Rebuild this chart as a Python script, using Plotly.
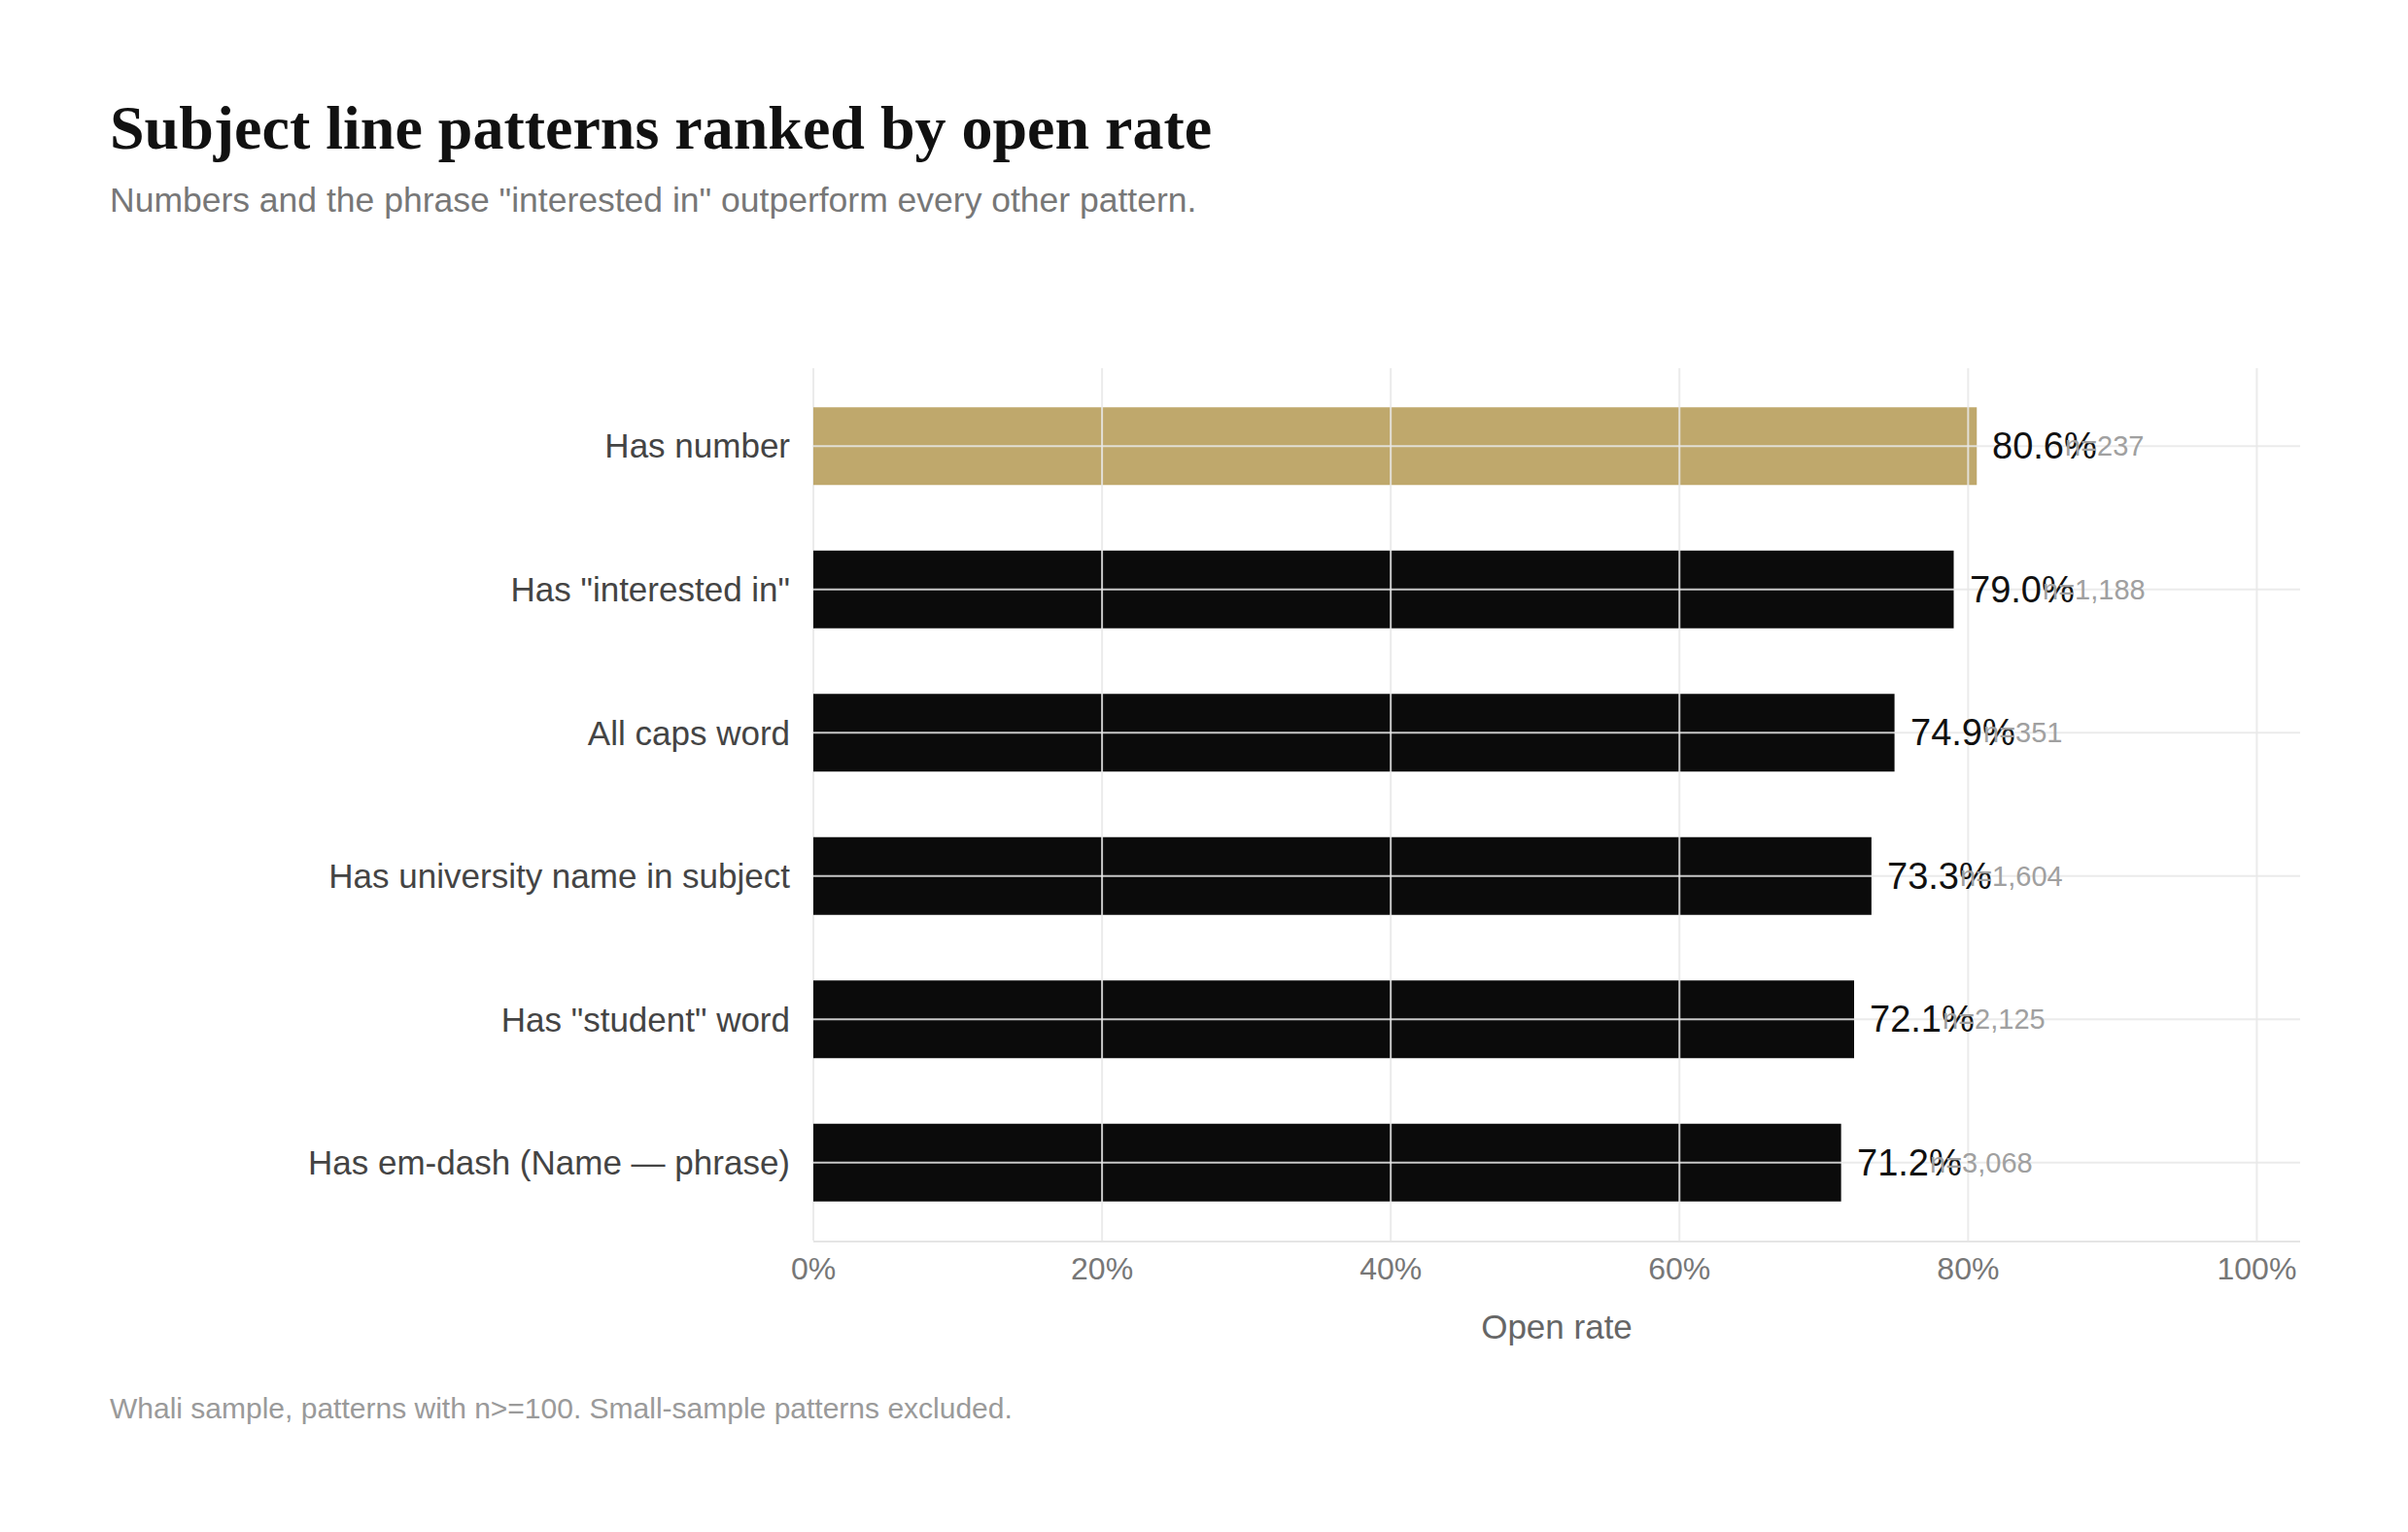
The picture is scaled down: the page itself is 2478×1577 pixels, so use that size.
import plotly.graph_objects as go

# data
patterns = [
    "Has number",
    'Has "interested in"',
    "All caps word",
    "Has university name in subject",
    'Has "student" word',
    "Has em-dash (Name \u2014 phrase)",
]
open_rate = [0.806, 0.790, 0.749, 0.733, 0.721, 0.712]
sample_n = [237, 1188, 351, 1604, 2125, 3068]
x_ticks = [0, 0.2, 0.4, 0.6, 0.8, 1.0]

GOLD = "#BFA86C"
BLACK = "#0B0B0B"
GRID = "rgba(232,232,232,0.86)"
SANS = "Helvetica Neue, Helvetica, Arial, Liberation Sans, sans-serif"
SERIF = "Georgia, Liberation Serif, serif"

colors = [GOLD if i == 0 else BLACK for i in range(len(patterns))]

fig = go.Figure()
fig.add_trace(go.Bar(
    x=open_rate,
    y=patterns,
    orientation="h",
    width=0.542,
    marker=dict(color=colors, line=dict(width=0)),
    hoverinfo="skip",
))

# grid is drawn on top of the bars in the original
for t in x_ticks[1:]:
    fig.add_shape(type="line", xref="x", yref="paper", x0=t, x1=t, y0=0, y1=1,
                  line=dict(color=GRID, width=2), layer="above")
for p in patterns:
    fig.add_shape(type="line", xref="paper", yref="y", x0=0, x1=1, y0=p, y1=p,
                  line=dict(color=GRID, width=2), layer="above")

# value labels just past the bar end
for p, v in zip(patterns, open_rate):
    fig.add_annotation(
        x=v, y=p, xref="x", yref="y", xshift=14,
        text=f"{v * 100:.1f}%", showarrow=False, xanchor="left", yanchor="middle",
        font=dict(family=SANS, size=38, color="#111111"),
    )

# n= labels, sit a bit right of the bar end (they overlap the % label like the original)
for p, v, n in zip(patterns, open_rate, sample_n):
    fig.add_annotation(
        x=v + 0.06, y=p, xref="x", yref="y",
        text=f"n={n:,}", showarrow=False, xanchor="left", yanchor="middle",
        font=dict(family=SANS, size=29, color="#a0a0a0"),
    )

# title / subtitle / footnote
fig.add_annotation(
    x=-0.4745, y=1.276, xref="paper", yref="paper", xanchor="left", yanchor="middle",
    text="<b>Subject line patterns ranked by open rate</b>", showarrow=False,
    font=dict(family=SERIF, size=64, color="#111111"),
)
fig.add_annotation(
    x=-0.4745, y=1.193, xref="paper", yref="paper", xanchor="left", yanchor="middle",
    text='Numbers and the phrase "interested in" outperform every other pattern.',
    showarrow=False, font=dict(family=SANS, size=35.5, color="#777777"),
)
fig.add_annotation(
    x=-0.4745, y=-0.1925, xref="paper", yref="paper", xanchor="left", yanchor="middle",
    text="Whali sample, patterns with n>=100. Small-sample patterns excluded.",
    showarrow=False, font=dict(family=SANS, size=30, color="#9a9a9a"),
)

fig.update_layout(
    width=2462, height=1561,
    margin=dict(l=829, r=103, t=371, b=292),
    paper_bgcolor="white", plot_bgcolor="white",
    showlegend=False,
    font=dict(family=SANS),
    xaxis=dict(
        range=[0, 1.03],
        tickvals=x_ticks,
        tickformat=".0%",
        tickfont=dict(size=32, color="#777777"),
        showgrid=False,
        zeroline=True, zerolinecolor="#ebebeb", zerolinewidth=2,
        showline=True, linecolor="#e5e5e5", linewidth=2,
        ticks="",
        title=dict(text="Open rate", font=dict(size=35, color="#666666"), standoff=30),
        fixedrange=True,
    ),
    yaxis=dict(
        range=[5.544, -0.544],
        tickfont=dict(size=35, color="#444444"),
        showgrid=False, zeroline=False,
        showline=False, ticks="", ticklabelstandoff=23,
        fixedrange=True,
    ),
)

fig.write_html("out.html")
